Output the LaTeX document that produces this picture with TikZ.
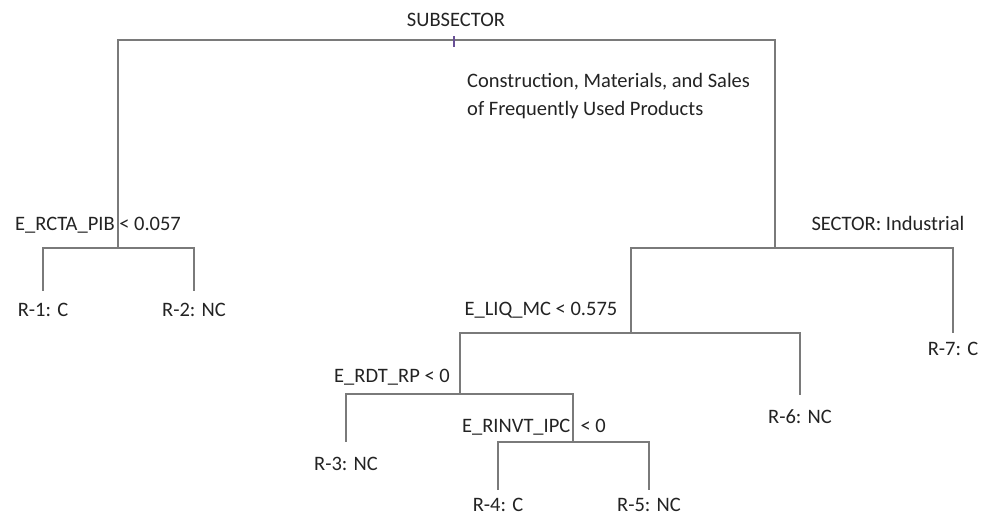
\documentclass[tikz,border=0pt]{standalone}
\usepackage{fontspec}
\setmainfont{Carlito}
\usetikzlibrary{positioning}
\definecolor{branchgray}{RGB}{122,122,122}
\definecolor{labelgray}{RGB}{35,35,35}
\definecolor{tickviolet}{RGB}{105,80,150}
\tikzstyle{leaf} = [anchor=north, inner sep=0pt, outer xsep=0pt, outer ysep=12pt, text=labelgray]
\tikzstyle{split} = [anchor=base, inner sep=0pt, text=labelgray]
\tikzstyle{branch} = [draw=branchgray, line width=1.6pt]

\begin{document}
\begin{tikzpicture}[x=1pt, y=-1pt, font=\fontsize{20.5}{28}\selectfont]
  \useasboundingbox (0,0) rectangle (988,515);

  \coordinate (root) at (454,40);
  \coordinate (rcta) at (118,248);
  \coordinate (sector) at (775,248);
  \coordinate (liq) at (631,333);
  \coordinate (rdt) at (460,394);
  \coordinate (rinvt) at (573,442);

  \node (subsector) [split] at (456,26) {SUBSECTOR};
  \node (construction) [anchor=base west, inner sep=0pt, text=labelgray, align=left] at (467,115)
    {Construction, Materials, and Sales\\of Frequently Used Products};
  \node (rctalabel) [split] at (98,230) {E\_RCTA\_PIB < 0.057};
  \node (sectorlabel) [split] at (888,230) {SECTOR: Industrial};
  \node (liqlabel) [split] at (541,315) {E\_LIQ\_MC < 0.575};
  \node (rdtlabel) [split] at (392,382) {E\_RDT\_RP < 0};
  \node (rinvtlabel) [split] at (534,432) {E\_RINVT\_IPC\enspace< 0};

  \node (r1) [leaf] at (43,291) {R-1: C};
  \node (r2) [leaf] at (194,291) {R-2: NC};
  \node (r7) [leaf, outer ysep=9pt] at (953,333) {R-7: C};
  \node (r6) [leaf, outer ysep=15pt] at (800,395) {R-6: NC};
  \node (r3) [leaf, outer ysep=15pt] at (346,442) {R-3: NC};
  \node (r4) [leaf, outer ysep=8pt] at (498,490) {R-4: C};
  \node (r5) [leaf, outer ysep=8pt] at (649,490) {R-5: NC};

  \draw[branch] (root) -| (rcta);
  \draw[branch] (root) -| (sector);
  \draw[tickviolet, line width=1.2pt] (root) ++(0,-4) -- ++(0,11);

  \draw[branch] (rcta) -| (r1);
  \draw[branch] (rcta) -| (r2);

  \draw[branch] (sector) -| (liq);
  \draw[branch] (sector) -| (r7);

  \draw[branch] (liq) -| (rdt);
  \draw[branch] (liq) -| (r6);

  \draw[branch] (rdt) -| (r3);
  \draw[branch] (rdt) -| (rinvt);

  \draw[branch] (rinvt) -| (r4);
  \draw[branch] (rinvt) -| (r5);
\end{tikzpicture}
\end{document}
